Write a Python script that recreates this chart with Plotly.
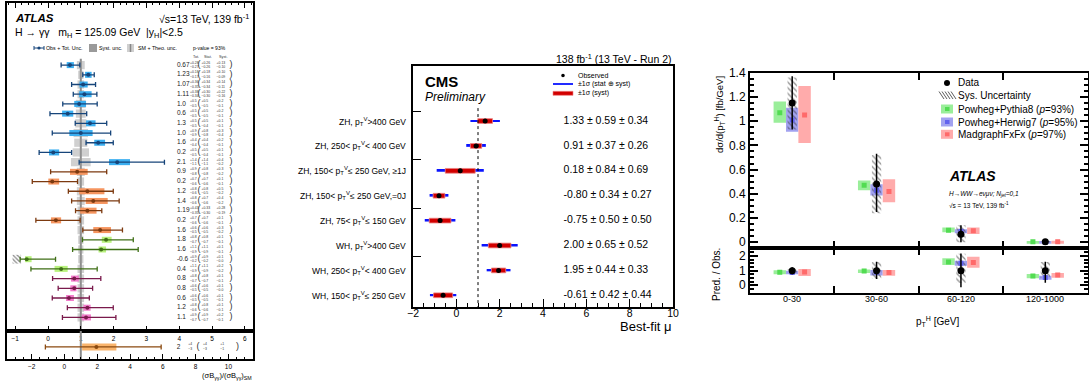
import plotly.graph_objects as go

W, H = 1089, 385
FONT = "Liberation Sans, Arial, Helvetica, sans-serif"

# ====================== Panel A : ATLAS H -> yy (STXS) ======================
a_value = [0.67, 1.23, 1.07, 1.11, 0.95, 0.60, 1.28, 1.00, 1.53, 0.16, 2.11,
           0.89, 0.13, 1.20, 1.38, 1.20, 0.24, 1.59,
           1.77, 1.62, -0.65, 0.40,
           0.80, 0.80, 0.64, 1.20, 1.16]
a_tot_lo = [0.40, 1.06, 0.72, 0.77, 0.45, 0.06, 0.83, 0.13, 1.16, -0.27, 0.95,
            0.08, -0.48, 0.62, 0.72, 0.84, -0.37, 1.06,
            1.05, 0.75, -0.85, -0.52,
            0.14, 0.31, 0.13, 0.59, 0.44]
a_tot_hi = [0.97, 1.41, 1.45, 1.49, 1.50, 1.18, 1.79, 1.91, 1.99, 0.72, 3.55,
            1.79, 0.90, 1.99, 2.17, 1.64, 0.98, 2.27,
            2.60, 2.75, 0.23, 1.50,
            1.61, 1.36, 1.26, 1.99, 2.07]
a_syst_lo = [0.57, 1.13, 0.96, 0.95, 0.80, 0.43, 1.16, 0.65, 1.41, 0.03, 1.86,
             0.67, 0.01, 0.95, 1.15, 0.98, 0.09, 1.38,
             1.64, 1.54, -0.70, 0.20,
             0.70, 0.68, 0.55, 1.08, 1.03]
a_syst_hi = [0.79, 1.33, 1.21, 1.33, 1.16, 0.77, 1.45, 1.36, 1.74, 0.34, 2.50,
             1.21, 0.34, 1.72, 1.82, 1.48, 0.40, 1.92,
             1.94, 1.77, -0.50, 0.60,
             0.94, 0.87, 0.79, 1.30, 1.31]
a_sm_unc = [0.12, 0.08, 0.10, 0.10, 0.15, 0.15, 0.17, 0.22, 0.20, 0.25, 0.30,
            0.12, 0.10, 0.12, 0.12, 0.10, 0.10, 0.10,
            0.08, 0.08, 0.08, 0.10,
            0.10, 0.10, 0.10, 0.10, 0.10]
a_group = ['b'] * 11 + ['o'] * 7 + ['g'] * 4 + ['m'] * 5
a_hatch = [-1.08, -0.82]   # hatched marker on row 20
a_hatch_row = 20

a_label = ["0.67", "1.23", "1.07", "1.11", "1.0", "0.6", "1.3", "1.0", "1.6", "0.2", "2.1",
           "0.9", "0.2", "1.2", "1.4", "1.19", "0.2", "1.6",
           "1.8", "1.6", "-0.6", "0.4",
           "0.8", "0.8", "0.6", "1.2", "1.1"]
a_tot_up = ["+0.28", "+0.18", "+0.36", "+0.38", "+0.5", "+0.5", "+0.5", "+0.9", "+0.4", "+0.5", "+1.4",
            "+0.9", "+0.7", "+0.8", "+0.8", "+0.43", "+0.7", "+0.6",
            "+0.8", "+1.1", "+0.9", "+1.1",
            "+0.8", "+0.6", "+0.6", "+0.8", "+0.9"]
a_tot_dn = ["−0.27", "−0.17", "−0.35", "−0.34", "−0.5", "−0.5", "−0.5", "−0.9", "−0.4", "−0.5", "−1.1",
            "−0.8", "−0.6", "−0.6", "−0.6", "−0.35", "−0.6", "−0.5",
            "−0.7", "−0.9", "−0.2", "−0.9",
            "−0.7", "−0.5", "−0.5", "−0.6", "−0.7"]
a_stat_up = ["+0.26", "+0.18", "+0.34", "+0.30", "+0.5", "+0.5", "+0.5", "+0.8", "+0.4", "+0.5", "+1.4",
             "+0.8", "+0.7", "+0.8", "+0.7", "+0.33", "+0.7", "+0.6",
             "+0.8", "+1.1", "+0.9", "+1.1",
             "+0.8", "+0.6", "+0.6", "+0.8", "+0.9"]
a_stat_dn = ["−0.26", "−0.16", "−0.34", "−0.30", "−0.5", "−0.5", "−0.4", "−0.8", "−0.4", "−0.4", "−1.1",
             "−0.8", "−0.6", "−0.5", "−0.6", "−0.30", "−0.6", "−0.5",
             "−0.7", "−0.9", "−0.2", "−0.9",
             "−0.7", "−0.5", "−0.5", "−0.6", "−0.7"]
a_syst_up = ["+0.13", "+0.10", "+0.14", "+0.22", "+0.2", "+0.2", "+0.1", "+0.3", "+0.2", "+0.1", "+0.4",
             "+0.3", "+0.1", "+0.5", "+0.4", "+0.28", "+0.1", "+0.3",
             "+0.1", "+0.1", "+0.1", "+0.2",
             "+0.1", "+0.1", "+0.1", "+0.1", "+0.2"]
a_syst_dn = ["−0.10", "−0.09", "−0.11", "−0.16", "−0.1", "−0.1", "−0.1", "−0.4", "−0.1", "−0.1", "−0.2",
             "−0.2", "−0.1", "−0.2", "−0.2", "−0.19", "−0.1", "−0.2",
             "−0.1", "−0.1", "−0.0", "−0.2",
             "−0.1", "−0.0", "−0.1", "−0.1", "−0.1"]

# bottom (separate-scale) row
b_value = [1.95]
b_tot_lo = [-1.16]
b_tot_hi = [5.90]
b_syst_lo = [1.08]
b_syst_hi = [3.17]
b_text = ["2", "+4", "−3", "+4", "−3", "+1", "−1"]

# ====================== Panel B : CMS VH ======================
cms_labels = ["ZH, p<sub>T</sub><sup>V</sup>>400 GeV",
              "ZH, 250< p<sub>T</sub><sup>V</sup>< 400 GeV",
              "ZH, 150< p<sub>T</sub><sup>V</sup>≤ 250 GeV, ≥1J",
              "ZH, 150< p<sub>T</sub><sup>V</sup>≤ 250 GeV,=0J",
              "ZH, 75< p<sub>T</sub><sup>V</sup>≤ 150 GeV",
              "WH, p<sub>T</sub><sup>V</sup>>400 GeV",
              "WH, 250< p<sub>T</sub><sup>V</sup>< 400 GeV",
              "WH, 150< p<sub>T</sub><sup>V</sup>≤ 250 GeV"]
cms_mu = [1.33, 0.91, 0.18, -0.80, -0.75, 2.00, 1.95, -0.61]
cms_stat = [0.59, 0.37, 0.84, 0.34, 0.50, 0.65, 0.44, 0.42]
cms_syst = [0.34, 0.26, 0.69, 0.27, 0.50, 0.52, 0.33, 0.44]
cms_text = ["1.33 ± 0.59 ± 0.34", "0.91 ± 0.37 ± 0.26", "0.18 ± 0.84 ± 0.69",
            "-0.80 ± 0.34 ± 0.27", "-0.75 ± 0.50 ± 0.50", "2.00 ± 0.65 ± 0.52",
            "1.95 ± 0.44 ± 0.33", "-0.61 ± 0.42 ± 0.44"]

# ====================== Panel C : ATLAS H -> WW pT ======================
ww_bins = ["0-30", "30-60", "60-120", "120-1000"]
ww_data = [1.15, 0.48, 0.066, 0.005]
ww_data_lo = [0.93, 0.25, 0.0, 0.0]
ww_data_hi = [1.37, 0.73, 0.14, 0.012]
ww_sys_lo = [0.93, 0.24, 0.0, -0.002]
ww_sys_hi = [1.36, 0.72, 0.14, 0.012]
ww_pyt = [1.07, 0.47, 0.100, 0.0035]
ww_pyt_lo = [0.986, 0.43, 0.083, -0.004]
ww_pyt_hi = [1.163, 0.51, 0.122, 0.011]
ww_her = [1.01, 0.43, 0.090, 0.003]
ww_her_lo = [0.913, 0.386, 0.075, -0.005]
ww_her_hi = [1.11, 0.478, 0.108, 0.011]
ww_mad = [1.05, 0.42, 0.095, 0.004]
ww_mad_lo = [0.82, 0.33, 0.069, -0.004]
ww_mad_hi = [1.29, 0.52, 0.122, 0.012]

r_data = [1.0, 1.0, 1.0, 1.0]
r_data_lo = [0.75, 0.43, -0.14, 0.18]
r_data_hi = [1.23, 1.61, 2.18, 1.61]
r_sys_lo = [0.85, 0.47, 0.15, 0.50]
r_sys_hi = [1.12, 1.60, 2.15, 1.60]
r_pyt = [0.89, 0.97, 1.60, 0.63]
r_pyt_lo = [0.76, 0.84, 1.38, 0.48]
r_pyt_hi = [1.02, 1.08, 1.84, 0.77]
r_her = [0.87, 0.90, 1.50, 0.53]
r_her_lo = [0.75, 0.66, 1.34, 0.38]
r_her_hi = [0.99, 1.04, 1.68, 0.65]
r_mad = [0.90, 0.87, 1.55, 0.70]
r_mad_lo = [0.63, 0.65, 1.20, 0.52]
r_mad_hi = [1.11, 1.04, 1.95, 0.84]

# ------------------------------------------------------------------
fig = go.Figure()
shapes, annos = [], []


def pxx(p):
    return p / W


def pxy(p):
    return 1 - p / H


def pline(x0, y0, x1, y1, color="black", width=1, dash=None):
    ln = dict(color=color, width=width)
    if dash:
        ln["dash"] = dash
    shapes.append(dict(type="line", xref="paper", yref="paper", x0=pxx(x0), x1=pxx(x1),
                       y0=pxy(y0), y1=pxy(y1), line=ln))


def prect(x0, y0, x1, y1, fill, lc=None, lw=0):
    shapes.append(dict(type="rect", xref="paper", yref="paper", x0=pxx(x0), x1=pxx(x1),
                       y0=pxy(y0), y1=pxy(y1), fillcolor=fill,
                       line=dict(color=lc or fill, width=lw)))


def pcirc(x, y, r, fill):
    shapes.append(dict(type="circle", xref="paper", yref="paper", x0=pxx(x - r), x1=pxx(x + r),
                       y0=pxy(y + r), y1=pxy(y - r), fillcolor=fill, line=dict(color=fill, width=0)))


def ptext(x, y, text, size, anchor="left", color="black", angle=0, family=FONT):
    annos.append(dict(xref="paper", yref="paper", x=pxx(x), y=pxy(y), text=text, showarrow=False,
                      xanchor=anchor, yanchor="middle", textangle=angle, borderpad=0,
                      font=dict(family=family, size=size, color=color)))


HATCH = dict(color='rgba(0,0,0,0)', line=dict(width=0),
             pattern=dict(shape='\\', fgcolor='#222222', bgcolor='rgba(0,0,0,0)',
                          fillmode='overlay', size=4, solidity=0.33))

# ---------------- Panel A traces ----------------
rows = list(range(len(a_value)))
STY = {'b': dict(line='#17457a', box='#3aaef0'),
       'o': dict(line='#7c3a10', box='#f6955f'),
       'g': dict(line='#3f6f16', box='#b9f27e'),
       'm': dict(line='#7a1a4c', box='#f27ccb')}

fig.add_trace(go.Bar(orientation='h', y=rows, base=[1 - u for u in a_sm_unc],
                     x=[2 * u for u in a_sm_unc], width=0.85,
                     marker=dict(color='rgba(150,150,150,0.45)', line=dict(width=0)),
                     xaxis='x', yaxis='y', hoverinfo='skip'))
for g, st in STY.items():
    idx = [i for i in rows if a_group[i] == g]
    fig.add_trace(go.Bar(orientation='h', y=idx, base=[a_syst_lo[i] for i in idx],
                         x=[a_syst_hi[i] - a_syst_lo[i] for i in idx], width=0.62,
                         marker=dict(color=st['box'], line=dict(width=0)),
                         xaxis='x', yaxis='y', hoverinfo='skip'))
fig.add_trace(go.Bar(orientation='h', y=[a_hatch_row], base=[a_hatch[0]], x=[a_hatch[1] - a_hatch[0]],
                     width=0.9, marker=dict(HATCH, pattern=dict(HATCH['pattern'], size=3, solidity=0.45)),
                     xaxis='x', yaxis='y', hoverinfo='skip'))
for g, st in STY.items():
    idx = [i for i in rows if a_group[i] == g]
    fig.add_trace(go.Scatter(x=[a_value[i] for i in idx], y=idx, mode='markers',
                             marker=dict(color=st['line'], size=4),
                             error_x=dict(type='data', symmetric=False,
                                          array=[a_tot_hi[i] - a_value[i] for i in idx],
                                          arrayminus=[a_value[i] - a_tot_lo[i] for i in idx],
                                          color=st['line'], thickness=1.3, width=2.5),
                             xaxis='x', yaxis='y', hoverinfo='skip'))


def txt_trace(xv, yv, texts, size, pos='middle right', color='#222', xa='x', ya='y'):
    fig.add_trace(go.Scatter(x=xv, y=yv, mode='text', text=texts, textposition=pos,
                             textfont=dict(family=FONT, size=size, color=color),
                             xaxis=xa, yaxis=ya, hoverinfo='skip', cliponaxis=False))


n = len(rows)
SMALL = 3.4
txt_trace([3.93] * n, rows, a_label, 6.5)
txt_trace([4.33] * n, [r - 0.24 for r in rows], a_tot_up, SMALL, color='#333')
txt_trace([4.33] * n, [r + 0.24 for r in rows], a_tot_dn, SMALL, color='#333')
txt_trace([4.60] * n, [r - 0.05 for r in rows], ["("] * n, 9, pos='middle center', color='#333')
txt_trace([4.68] * n, [r - 0.24 for r in rows], a_stat_up, SMALL, color='#333')
txt_trace([4.68] * n, [r + 0.24 for r in rows], a_stat_dn, SMALL, color='#333')
txt_trace([5.14] * n, [r - 0.24 for r in rows], a_syst_up, SMALL, color='#333')
txt_trace([5.14] * n, [r + 0.24 for r in rows], a_syst_dn, SMALL, color='#333')
txt_trace([5.58] * n, [r - 0.05 for r in rows], [")"] * n, 9, pos='middle center', color='#333')

# bottom row
BY = 0.43
fig.add_trace(go.Bar(x=[b_syst_hi[0] - b_syst_lo[0]], base=b_syst_lo, y=[BY], orientation='h', width=0.25,
                     marker=dict(color='#f9b46c', line=dict(width=0)), xaxis='x2', yaxis='y2', hoverinfo='skip'))
fig.add_trace(go.Scatter(x=b_value, y=[BY], mode='markers', marker=dict(color='#8b4a10', size=4),
                         error_x=dict(type='data', symmetric=False, array=[b_tot_hi[0] - b_value[0]],
                                      arrayminus=[b_value[0] - b_tot_lo[0]], color='#8b4a10',
                                      thickness=1.3, width=2.5),
                         xaxis='x2', yaxis='y2', hoverinfo='skip'))
txt_trace([6.85], [BY], [b_text[0]], 6.5, xa='x2', ya='y2')
txt_trace([7.55, 7.55], [BY + 0.09, BY - 0.09], b_text[1:3], SMALL, color='#333', xa='x2', ya='y2')
txt_trace([8.15], [BY], ["("], 9, pos='middle center', color='#333', xa='x2', ya='y2')
txt_trace([8.45, 8.45], [BY + 0.09, BY - 0.09], b_text[3:5], SMALL, color='#333', xa='x2', ya='y2')
txt_trace([9.5, 9.5], [BY + 0.09, BY - 0.09], b_text[5:7], SMALL, color='#333', xa='x2', ya='y2')
txt_trace([10.55], [BY], [")"], 9, pos='middle center', color='#333', xa='x2', ya='y2')

# SM reference lines
shapes.append(dict(type='line', xref='x', yref='y', x0=1, x1=1, y0=-0.65, y1=27.4, layer='below',
                   line=dict(color='#8c8c8c', width=2)))
shapes.append(dict(type='line', xref='x2', yref='y2', x0=1, x1=1, y0=0, y1=1, layer='below',
                   line=dict(color='#8c8c8c', width=2)))

# Panel A header texts
ptext(14, 18, "<b><i>ATLAS</i></b>", 11.5)
ptext(250, 18, "√s=13 TeV, 139 fb<sup>-1</sup>", 10.5, anchor='right')
ptext(14, 33, "H → γγ   m<sub>H</sub> = 125.09 GeV  |y<sub>H</sub>|<2.5", 10.5)
pline(34, 48, 44, 48, '#17457a', 1)
pline(34, 46, 34, 50, '#17457a', 1)
pline(44, 46, 44, 50, '#17457a', 1)
pcirc(39, 48, 1.6, '#17457a')
ptext(45, 48, "Obs + Tot. Unc.", 5.3)
prect(89, 44, 97, 52, '#9a9a9a')
ptext(98.5, 48, "Syst. unc.", 5.3)
prect(127, 44, 134, 52, '#d0d0d0')
pline(130.5, 44, 130.5, 52, '#888888', 1.5)
ptext(137, 48, "SM + Theo. unc.", 5.3)
ptext(192, 48, "p-value = 93%", 5)
ptext(196, 57, "Tot.", 3.8, anchor='center', color='#333')
ptext(208, 57, "Stat.", 3.8, anchor='center', color='#333')
ptext(223, 57, "Syst.", 3.8, anchor='center', color='#333')
ptext(253, 376, "(σB<sub>γγ</sub>)/(σB<sub>γγ</sub>)<sub>SM</sub>", 7.5, anchor='right')

# ---------------- Panel B traces ----------------
crow = list(range(len(cms_mu)))
cms_tot = [(s ** 2 + y ** 2) ** 0.5 for s, y in zip(cms_stat, cms_syst)]
fig.add_trace(go.Bar(orientation='h', y=crow, base=[m - t for m, t in zip(cms_mu, cms_tot)],
                     x=[2 * t for t in cms_tot], width=0.075,
                     marker=dict(color='#0a14ff', line=dict(width=0)),
                     xaxis='x3', yaxis='y3', hoverinfo='skip'))
fig.add_trace(go.Bar(orientation='h', y=crow, base=[m - s for m, s in zip(cms_mu, cms_syst)],
                     x=[2 * s for s in cms_syst], width=0.19,
                     marker=dict(color='#d20000', line=dict(color='#ee8080', width=0.8)),
                     xaxis='x3', yaxis='y3', hoverinfo='skip'))
fig.add_trace(go.Scatter(x=cms_mu, y=crow, mode='markers', marker=dict(color='black', size=5),
                         xaxis='x3', yaxis='y3', hoverinfo='skip'))
txt_trace([4.95] * len(crow), crow, cms_text, 10.5, color='black', xa='x3', ya='y3')
for i, lab in enumerate(cms_labels):
    annos.append(dict(xref='paper', yref='y3', x=pxx(408), y=i, text=lab, showarrow=False,
                      xanchor='right', yanchor='middle', font=dict(family=FONT, size=8.5, color='black')))
shapes.append(dict(type='line', xref='x3', yref='y3', x0=1, x1=1, y0=-0.52, y1=7.47,
                   line=dict(color='black', width=1, dash='dot')))
ptext(673, 59, "138 fb<sup>-1</sup> (13 TeV - Run 2)", 10.5, anchor='right')
ptext(424, 82, "<b>CMS</b>", 15)
ptext(424, 97, "<i>Preliminary</i>", 12)
pcirc(563, 75.5, 1.8, 'black')
ptext(577, 75.5, "Observed", 7)
pline(553, 84, 573, 84, '#0a14ff', 1.8)
ptext(577, 84, "±1σ (stat ⊕ syst)", 7)
prect(553, 91.3, 573, 95.3, '#d20000', '#ee8080', 0.6)
ptext(577, 93.3, "±1σ (syst)", 7)
ptext(673, 326, "Best-fit μ", 13, anchor='right')

# ---------------- Panel C traces ----------------
bx = list(range(len(ww_bins)))
OFF = 0.147
CG = dict(box='#9aee9a', mk='#52dc52')
CB = dict(box='#a2a2f0', mk='#6262ee')
CR = dict(box='#ffabab', mk='#ff6a6a')


def pred_boxes(lo, hi, off, col, xa, ya):
    fig.add_trace(go.Bar(x=[i + off for i in bx], base=lo, y=[h - l for h, l in zip(hi, lo)], width=OFF,
                         marker=dict(color=col['box'], line=dict(width=0)), xaxis=xa, yaxis=ya,
                         hoverinfo='skip'))


def pred_marks(val, off, col, xa, ya):
    fig.add_trace(go.Scatter(x=[i + off for i in bx], y=val, mode='markers',
                             marker=dict(symbol='square', size=5, color=col['mk']),
                             xaxis=xa, yaxis=ya, hoverinfo='skip'))


for (xa, ya, p, pl, ph, h, hl, hh, m, ml, mh, sl, sh, d, dl, dh) in [
        ('x4', 'y4', ww_pyt, ww_pyt_lo, ww_pyt_hi, ww_her, ww_her_lo, ww_her_hi, ww_mad, ww_mad_lo, ww_mad_hi,
         ww_sys_lo, ww_sys_hi, ww_data, ww_data_lo, ww_data_hi),
        ('x5', 'y5', r_pyt, r_pyt_lo, r_pyt_hi, r_her, r_her_lo, r_her_hi, r_mad, r_mad_lo, r_mad_hi,
         r_sys_lo, r_sys_hi, r_data, r_data_lo, r_data_hi)]:
    pred_boxes(pl, ph, -OFF, CG, xa, ya)
    pred_boxes(hl, hh, 0, CB, xa, ya)
    pred_boxes(ml, mh, OFF, CR, xa, ya)
    pred_marks(p, -OFF, CG, xa, ya)
    pred_marks(h, 0, CB, xa, ya)
    pred_marks(m, OFF, CR, xa, ya)
    fig.add_trace(go.Bar(x=bx, base=sl, y=[b - a for a, b in zip(sl, sh)], width=0.11,
                         marker=HATCH, xaxis=xa, yaxis=ya, hoverinfo='skip'))
    fig.add_trace(go.Scatter(x=bx, y=d, mode='markers', marker=dict(color='black', size=7),
                             error_y=dict(type='data', symmetric=False,
                                          array=[b - a for a, b in zip(d, dh)],
                                          arrayminus=[a - b for a, b in zip(d, dl)],
                                          color='black', thickness=1.5, width=0),
                             xaxis=xa, yaxis=ya, hoverinfo='skip'))

for i, b in enumerate(ww_bins):
    annos.append(dict(xref='x5', yref='paper', x=i, y=pxy(299), text=b, showarrow=False,
                      xanchor='center', yanchor='middle', font=dict(family=FONT, size=9, color='black')))

# Panel C legend & texts
pcirc(947, 83, 3, 'black')
ptext(957, 83, "Data", 10)
for k in range(5):
    x0 = 939 + 3 * k
    pline(x0, 91.5, x0 + 5, 99, '#333', 0.8)
ptext(957, 96, "Sys. Uncertainty", 10)
for yc, col, lab in [(109, CG, "Powheg+Pythia8 (<i>p</i>=93%)"),
                     (122, CB, "Powheg+Herwig7 (<i>p</i>=95%)"),
                     (134.3, CR, "MadgraphFxFx (<i>p</i>=97%)")]:
    prect(941, yc - 4.5, 953, yc + 4.5, col['box'])
    prect(945, yc - 2, 949.5, yc + 2, col['mk'])
    ptext(957, yc, lab, 10)
ptext(948, 176, "<b><i>ATLAS</i></b>", 14)
ptext(948, 194, "<i>H→WW→eνμν; N<sub>jet</sub>=0,1</i>", 6.5)
ptext(948, 205, "√s = 13 TeV, 139 fb<sup>-1</sup>", 6.5)
ptext(719, 115, "dσ/d(p<sub>T</sub><sup>H</sup>) [fb/GeV]", 9.5, anchor='center', angle=-90)
ptext(716, 275, "Pred. / Obs.", 10, anchor='center', angle=-90)
ptext(937, 321, "p<sub>T</sub><sup>H</sup> [GeV]", 10, anchor='center')

# ---------------- Layout ----------------
base_ax = dict(showgrid=False, zeroline=False, showline=True, linecolor='black',
               tickcolor='black', tickfont=dict(family=FONT, color='black'))

A_X = [pxx(7), pxx(253)]
C_X = [pxx(750), pxx(1087.5)]

fig.update_layout(
    width=W, height=H, margin=dict(l=0, r=0, t=0, b=0, autoexpand=False),
    paper_bgcolor='white', plot_bgcolor='white', showlegend=False, barmode='overlay',
    font=dict(family=FONT, color='black'),
    shapes=shapes, annotations=annos,
    # panel A upper
    xaxis=dict(base_ax, domain=A_X, range=[-1.25, 6.25], anchor='y', dtick=1, ticks='inside',
               ticklen=5, tickwidth=1, linewidth=1.5, mirror='allticks', tickfont=dict(size=6.5),
               minor=dict(dtick=0.2, ticklen=2.5, ticks='inside', tickcolor='black')),
    yaxis=dict(base_ax, domain=[pxy(331), pxy(3)], range=[27.4, -6.4], anchor='x',
               showticklabels=False, ticks='', linewidth=1.5, mirror=True),
    # panel A lower
    xaxis2=dict(base_ax, domain=A_X, range=[-3.5, 11.5], anchor='y2', dtick=2, ticks='inside',
                ticklen=5, linewidth=1.5, mirror=True, tickfont=dict(size=6.5),
                minor=dict(dtick=0.5, ticklen=2.5, ticks='inside', tickcolor='black')),
    yaxis2=dict(base_ax, domain=[pxy(359), pxy(331)], range=[0, 1], anchor='x2',
                showticklabels=False, ticks='', linewidth=1.5, mirror=True),
    # panel B
    xaxis3=dict(base_ax, domain=[pxx(413), pxx(673)], range=[-2, 10], anchor='y3', dtick=2,
                ticks='inside', ticklen=8, linewidth=1.5, mirror=True, tickfont=dict(size=10.5),
                ticklabelstandoff=-4,
                minor=dict(dtick=0.5, ticklen=4, ticks='inside', tickcolor='black')),
    yaxis3=dict(base_ax, domain=[pxy(307), pxy(66)], range=[7.47, -2.21], anchor='x3',
                showticklabels=False, ticks='inside', ticklen=8, tickvals=[-0.4, 1.55, 3.5, 5.45],
                linewidth=1.5, mirror=True),
    # panel C upper
    xaxis4=dict(base_ax, domain=C_X, range=[-0.5, 3.5], anchor='y4', tickvals=[0.5, 1.5, 2.5],
                showticklabels=False, ticks='inside', ticklen=7, tickwidth=1.5, linewidth=2,
                mirror='allticks'),
    yaxis4=dict(base_ax, domain=[pxy(247.7), pxy(72.7)], range=[-0.045, 1.4], anchor='x4',
                dtick=0.2, ticks='inside', ticklen=8, tickwidth=1.5, linewidth=2, mirror='allticks',
                tickfont=dict(size=12),
                minor=dict(dtick=0.05, ticklen=4, ticks='inside', tickcolor='black')),
    # panel C ratio
    xaxis5=dict(base_ax, domain=C_X, range=[-0.5, 3.5], anchor='y5', tickvals=[0.5, 1.5, 2.5],
                showticklabels=False, ticks='inside', ticklen=7, tickwidth=1.5, linewidth=2,
                mirror='allticks'),
    yaxis5=dict(base_ax, domain=[pxy(293.3), pxy(247.7)], range=[-0.55, 2.57], anchor='x5',
                dtick=1, ticks='inside', ticklen=8, tickwidth=1.5, linewidth=2, mirror='allticks',
                tickfont=dict(size=12),
                minor=dict(dtick=0.25, ticklen=4, ticks='inside', tickcolor='black')),
)

fig.write_html("out.html", config=dict(displayModeBar=False),
               post_script="document.body.style.margin='0px';document.body.style.overflow='hidden';")
